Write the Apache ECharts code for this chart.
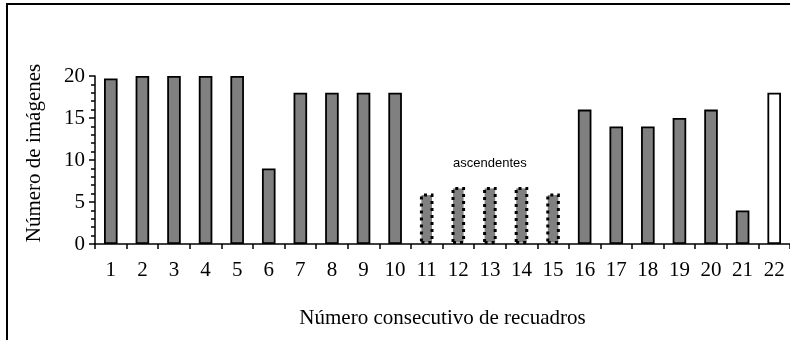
<!DOCTYPE html>
<html>
<head>
<meta charset="utf-8">
<script src="https://cdn.jsdelivr.net/npm/echarts@6/dist/echarts.min.js"></script>
<style>html,body{margin:0;padding:0;background:#fff;}#c{width:790px;height:340px;}</style>
</head>
<body>
<div id="c"></div>
<script>
var categories = ['1','2','3','4','5','6','7','8','9','10','11','12','13','14','15','16','17','18','19','20','21','22'];
var values = [19.7, 20, 20, 20, 20, 9, 18, 18, 18, 18, 6, 6.8, 6.8, 6.8, 6, 16, 14, 14, 15, 16, 4, 18];
var ascendingCats = ['11','12','13','14','15'];
var highlightCats = ['22'];
var annotationText = 'ascendentes';
var annotationCat = '13';
var annotationY = 9.6;
var yTicks = [0, 5, 10, 15, 20];
var xTitle = 'Número consecutivo de recuadros';
var yTitle = 'Número de imágenes';

var serif = 'Liberation Serif, Times New Roman, serif';
var data = categories.map(function (c, i) {
  var st;
  if (ascendingCats.indexOf(c) >= 0) {
    st = { color: '#808080', borderColor: '#000', borderWidth: 3, borderType: [3, 4] };
  } else if (highlightCats.indexOf(c) >= 0) {
    st = { color: '#ffffff', borderColor: '#000', borderWidth: 1.8 };
  } else {
    st = { color: '#808080', borderColor: '#000', borderWidth: 1.8 };
  }
  return { value: values[i], itemStyle: st };
});

var chart = echarts.init(document.getElementById('c'), null, { renderer: 'canvas' });
chart.setOption({
  animation: false,
  backgroundColor: '#fff',
  grid: { left: 95, right: 0, top: 76, bottom: 96, containLabel: false },
  xAxis: {
    type: 'category',
    data: categories,
    name: xTitle,
    nameLocation: 'middle',
    nameGap: 64,
    nameTextStyle: { fontFamily: serif, fontSize: 21, color: '#000' },
    axisLine: { lineStyle: { color: '#000', width: 1.5 } },
    axisTick: { show: true, length: 5, lineStyle: { color: '#000', width: 1.5 } },
    axisLabel: { fontFamily: serif, fontSize: 21, color: '#000', margin: 16, interval: 0 }
  },
  yAxis: {
    type: 'value',
    min: yTicks[0],
    max: yTicks[yTicks.length - 1],
    interval: yTicks[1] - yTicks[0],
    name: yTitle,
    nameLocation: 'middle',
    nameGap: 50,
    nameRotate: 90,
    nameTextStyle: { fontFamily: serif, fontSize: 21, color: '#000', padding: [0, 0, 0, 14] },
    axisLine: { show: true, lineStyle: { color: '#000', width: 1.5 } },
    axisTick: { show: true, length: 6, lineStyle: { color: '#000', width: 1.5 } },
    minorTick: { show: true, splitNumber: 5, length: 4, lineStyle: { color: '#000', width: 1.5 } },
    splitLine: { show: false },
    axisLabel: { fontFamily: serif, fontSize: 21, color: '#000', margin: 10 }
  },
  graphic: [{
    type: 'rect',
    shape: { x: 7, y: 4, width: 900, height: 500 },
    style: { fill: 'none', stroke: '#000', lineWidth: 2 },
    silent: true
  }],
  series: [{
    type: 'bar',
    data: data,
    barWidth: '43%',
    markPoint: {
      symbol: 'circle',
      symbolSize: 0,
      data: [{ coord: [annotationCat, annotationY], value: annotationText }],
      label: {
        show: true,
        position: 'inside',
        formatter: annotationText,
        fontFamily: 'Liberation Sans, Arial, sans-serif',
        fontSize: 13,
        color: '#000'
      }
    }
  }]
});
</script>
</body>
</html>
